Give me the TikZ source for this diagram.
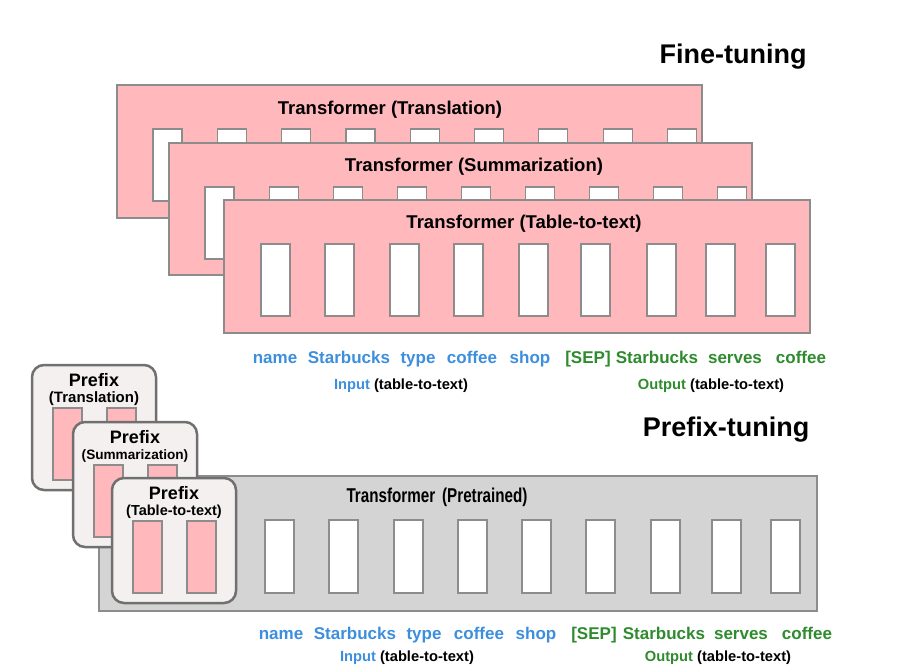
\documentclass[tikz,border=0pt]{standalone}
\usepackage{fontspec}
\setmainfont{Liberation Sans}
\newfontfamily\narrowfont[FakeStretch=0.76]{Liberation Sans}

\begin{document}
\begin{tikzpicture}[x=1pt, y=-1pt,
    pinkbox/.style={fill=pinkFill, draw=boxBorder, line width=1.5pt},
    graybox/.style={fill=grayFill, draw=boxBorder, line width=1.5pt},
    prefixbox/.style={fill=prefixFill, draw=prefixBorder, line width=2.5pt, rounded corners=12pt},
    token/.style={fill=white, draw=boxBorder, line width=1.2pt},
    pinktoken/.style={fill=pinkFill, draw=boxBorder, line width=1.2pt},
    heading/.style={font=\fontsize{27}{30}\selectfont\bfseries},
    title/.style={font=\fontsize{18.5}{20}\selectfont\bfseries},
    word/.style={font=\fontsize{17}{19}\selectfont\bfseries, inner sep=0pt, anchor=base},
    caption/.style={font=\fontsize{14.7}{16}\selectfont\bfseries, inner sep=0pt, anchor=base}]
    \definecolor{pinkFill}{HTML}{FFB8BC}
    \definecolor{grayFill}{HTML}{D4D4D4}
    \definecolor{prefixFill}{HTML}{F3F0EF}
    \definecolor{prefixBorder}{HTML}{707070}
    \definecolor{boxBorder}{HTML}{8C8C8C}
    \definecolor{inBlue}{HTML}{3D8FDD}
    \definecolor{outGreen}{HTML}{2E8B2E}

    \useasboundingbox[fill=white] (0,0) rectangle (905,671);

    % Fine-tuning: one transformer per task
    \node[heading] (fineHead) at (733,57) {Fine-tuning};

    \draw[pinkbox] (117,85) rectangle ++(585,133);
    \node[title] (transTitle) at (390,110) {Transformer (Translation)};
    \foreach \i in {0,...,8}
        \draw[token] ({153+64.3*\i},129) rectangle ++(29,72);

    \draw[pinkbox] (169,143) rectangle ++(583,132);
    \node[title] (summTitle) at (474,167) {Transformer (Summarization)};
    \foreach \i in {0,...,8}
        \draw[token] ({205+64.1*\i},187) rectangle ++(29,72);

    \draw[pinkbox] (224,200) rectangle ++(586,133);
    \node[title] (tableTitle) at (524,224) {Transformer (Table-to-text)};
    \foreach \x in {261,325,390,454,519,581,647,706,766}
        \draw[token] (\x,244) rectangle ++(29,72);

    % Words under the fine-tuned model
    \foreach \x/\w [count=\n] in {275/name,349/Starbucks,418/type,472/coffee,530/shop}
        \node[word, text=inBlue] (fineIn\n) at (\x,363) {\w};
    \foreach \x/\w [count=\n] in {588/[SEP],657/Starbucks,735/serves,801/coffee}
        \node[word, text=outGreen] (fineOut\n) at (\x,363) {\w};
    \node[caption] (fineInCap) at (401,389) {\textcolor{inBlue}{Input} (table-to-text)};
    \node[caption] (fineOutCap) at (711,389) {\textcolor{outGreen}{Output} (table-to-text)};

    % Prefix-tuning: one frozen transformer
    \node[heading] (prefixHead) at (726,430) {Prefix-tuning};

    \draw[graybox] (99,476) rectangle (817,611);
    \node[font=\fontsize{20}{22}\selectfont\narrowfont\bfseries] (pretTitle) at (437,497) {Transformer\hspace{0.35em}(Pretrained)};
    \foreach \x in {265,329,394,458,522,586,651,712,771}
        \draw[token] (\x,520) rectangle ++(29,73);

    % Prefix blocks
    \foreach \bx/\by/\task/\fs [count=\n] in {32/365/Translation/15, 73/422/Summarization/13.6, 112/478/Table-to-text/14.5} {
        \draw[prefixbox] (\bx,\by) rectangle ++(124,125);
        \node[font=\fontsize{18}{20}\selectfont\bfseries, inner sep=0pt, anchor=base] (prefixName\n) at (\bx+62,\by+21) {Prefix};
        \node[font=\fontsize{\fs}{16}\selectfont\bfseries, inner sep=0pt, anchor=base] (prefixTask\n) at (\bx+62,\by+37) {(\task)};
        \draw[pinktoken] (\bx+21,\by+43) rectangle ++(29,72);
        \draw[pinktoken] (\bx+75,\by+43) rectangle ++(29,72);
    }

    % Words under the prefix-tuned model
    \foreach \x/\w [count=\n] in {281/name,355/Starbucks,424/type,479/coffee,536/shop}
        \node[word, text=inBlue] (prefIn\n) at (\x,639) {\w};
    \foreach \x/\w [count=\n] in {594/[SEP],664/Starbucks,741/serves,807/coffee}
        \node[word, text=outGreen] (prefOut\n) at (\x,639) {\w};
    \node[caption] (prefInCap) at (407,661) {\textcolor{inBlue}{Input} (table-to-text)};
    \node[caption] (prefOutCap) at (718,661) {\textcolor{outGreen}{Output} (table-to-text)};

\end{tikzpicture}
\end{document}
